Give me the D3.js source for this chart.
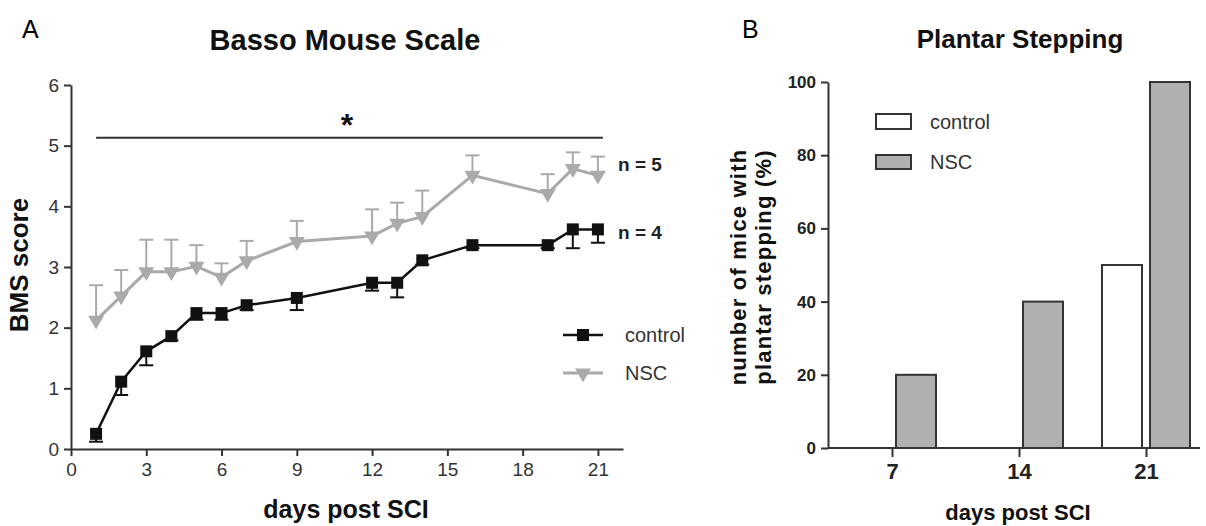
<html>
  <head>
    <title>BMS and plantar stepping</title>
    <script src="https://d3js.org/d3.v7.min.js"></script>
    <style>
      body { margin: 0; background: #fff; font-family: "Liberation Sans", Arial, sans-serif; }
      .axis path, .axis line { stroke: #333; stroke-width: 2; }
      .axisA text { font-size: 19px; fill: #333; }
      .axisB text { font-size: 17px; fill: #222; font-weight: bold; }
    </style>
  </head>
  <body>
    <svg width="1206" height="526"></svg>
    <script>
      // panel A: Basso Mouse Scale
      var days = [1, 2, 3, 4, 5, 6, 7, 9, 12, 13, 14, 16, 19, 20, 21];
      var controlMean = [0.25, 1.11, 1.61, 1.86, 2.24, 2.24, 2.37, 2.49, 2.74, 2.74, 3.11, 3.36, 3.36, 3.62, 3.62];
      var controlErr  = [0.13, 0.22, 0.23, 0.07, 0.11, 0.11, 0.08, 0.2, 0.13, 0.24, 0.07, 0.05, 0.05, 0.31, 0.22];
      var nscMean = [2.12, 2.52, 2.92, 2.92, 3.01, 2.83, 3.1, 3.42, 3.51, 3.72, 3.83, 4.51, 4.21, 4.62, 4.51];
      var nscErr  = [0.58, 0.43, 0.53, 0.53, 0.35, 0.23, 0.33, 0.34, 0.44, 0.34, 0.43, 0.33, 0.32, 0.27, 0.31];
      var xTicksA = [0, 3, 6, 9, 12, 15, 18, 21];
      var yTicksA = [0, 1, 2, 3, 4, 5, 6];

      // panel B: Plantar Stepping
      var stepDays = ["7", "14", "21"];
      var stepControl = [0, 0, 50];
      var stepNSC = [20, 40, 100];
      var yTicksB = [0, 20, 40, 60, 80, 100];

      var svg = d3.select("svg");
      var dark = "#111", grey = "#aaaaaa";

      // ---------- A ----------
      var xA = d3.scaleLinear().domain([0, 22]).range([71, 623]);
      var yA = d3.scaleLinear().domain([0, 6]).range([449, 85]);

      svg.append("g").attr("class", "axis axisA")
        .attr("transform", "translate(0,449)")
        .call(d3.axisBottom(xA).tickValues(xTicksA).tickSize(7).tickSizeOuter(0).tickPadding(7));
      svg.append("g").attr("class", "axis axisA")
        .attr("transform", "translate(71,0)")
        .call(d3.axisLeft(yA).tickValues(yTicksA).tickFormat(d3.format("d")).tickSize(7).tickSizeOuter(0).tickPadding(5));

      svg.append("text").attr("x", 22).attr("y", 38).attr("font-size", 25).text("A");
      svg.append("text").attr("x", 345).attr("y", 50).attr("text-anchor", "middle")
        .attr("font-size", 29).attr("font-weight", "bold").attr("fill", "#111").text("Basso Mouse Scale");
      svg.append("text").attr("transform", "translate(28,265) rotate(-90)").attr("text-anchor", "middle")
        .attr("font-size", 26).attr("font-weight", "bold").attr("fill", "#111").text("BMS score");
      svg.append("text").attr("x", 346).attr("y", 518).attr("text-anchor", "middle")
        .attr("font-size", 25).attr("font-weight", "bold").attr("fill", "#111").text("days post SCI");

      // significance bar
      svg.append("line").attr("x1", xA(1)).attr("x2", xA(21.2))
        .attr("y1", yA(5.13)).attr("y2", yA(5.13)).attr("stroke", "#333").attr("stroke-width", 2);
      svg.append("text").attr("x", 347).attr("y", 136).attr("text-anchor", "middle")
        .attr("font-size", 32).attr("font-weight", "bold").attr("fill", "#111").text("*");

      var line = d3.line().x(function(d){ return xA(d[0]); }).y(function(d){ return yA(d[1]); });

      // NSC error bars (upward)
      var nscG = svg.append("g");
      days.forEach(function(d, i){
        var top = yA(nscMean[i] + nscErr[i]);
        nscG.append("line").attr("x1", xA(d)).attr("x2", xA(d)).attr("y1", yA(nscMean[i])).attr("y2", top)
          .attr("stroke", grey).attr("stroke-width", 2);
        nscG.append("line").attr("x1", xA(d) - 7).attr("x2", xA(d) + 7).attr("y1", top).attr("y2", top)
          .attr("stroke", grey).attr("stroke-width", 2);
      });
      nscG.append("path").datum(days.map(function(d, i){ return [d, nscMean[i]]; }))
        .attr("d", line).attr("fill", "none").attr("stroke", grey).attr("stroke-width", 3);
      var tri = d3.symbol().type(d3.symbolTriangle).size(110);
      days.forEach(function(d, i){
        nscG.append("path").attr("d", tri)
          .attr("transform", "translate(" + xA(d) + "," + yA(nscMean[i]) + ") rotate(180)")
          .attr("fill", grey);
      });

      // control error bars (downward)
      var ctlG = svg.append("g");
      days.forEach(function(d, i){
        var bot = yA(controlMean[i] - controlErr[i]);
        ctlG.append("line").attr("x1", xA(d)).attr("x2", xA(d)).attr("y1", yA(controlMean[i])).attr("y2", bot)
          .attr("stroke", dark).attr("stroke-width", 2);
        ctlG.append("line").attr("x1", xA(d) - 7).attr("x2", xA(d) + 7).attr("y1", bot).attr("y2", bot)
          .attr("stroke", dark).attr("stroke-width", 2);
      });
      ctlG.append("path").datum(days.map(function(d, i){ return [d, controlMean[i]]; }))
        .attr("d", line).attr("fill", "none").attr("stroke", dark).attr("stroke-width", 2.5);
      days.forEach(function(d, i){
        ctlG.append("rect").attr("x", xA(d) - 6).attr("y", yA(controlMean[i]) - 6)
          .attr("width", 12).attr("height", 12).attr("fill", dark);
      });

      svg.append("text").attr("x", 618).attr("y", 171).attr("font-size", 19).attr("font-weight", "bold")
        .attr("fill", "#222").text("n = 5");
      svg.append("text").attr("x", 618).attr("y", 239).attr("font-size", 19).attr("font-weight", "bold")
        .attr("fill", "#222").text("n = 4");

      // legend A
      var legA = svg.append("g");
      legA.append("line").attr("x1", 563).attr("x2", 603).attr("y1", 335).attr("y2", 335)
        .attr("stroke", dark).attr("stroke-width", 2.5);
      legA.append("rect").attr("x", 577).attr("y", 329).attr("width", 12).attr("height", 12).attr("fill", dark);
      legA.append("text").attr("x", 625).attr("y", 342).attr("font-size", 20).attr("fill", "#333").text("control");
      legA.append("line").attr("x1", 563).attr("x2", 603).attr("y1", 373).attr("y2", 373)
        .attr("stroke", grey).attr("stroke-width", 3);
      legA.append("path").attr("d", tri).attr("transform", "translate(583,373) rotate(180)").attr("fill", grey);
      legA.append("text").attr("x", 625).attr("y", 380).attr("font-size", 20).attr("fill", "#333").text("NSC");

      // ---------- B ----------
      var xB = d3.scalePoint().domain(stepDays).range([892, 1146]);
      var yB = d3.scaleLinear().domain([0, 100]).range([448, 82]);

      svg.append("g").attr("class", "axis axisB")
        .attr("transform", "translate(0,448)")
        .call(d3.axisBottom(xB).tickSize(9).tickSizeOuter(0).tickPadding(6))
        .call(function(g){
          g.select(".domain").attr("d", "M828,0H1200");
          g.selectAll("text").style("font-size", "22px");
        });
      svg.append("g").attr("class", "axis axisB")
        .attr("transform", "translate(828,0)")
        .call(d3.axisLeft(yB).tickValues(yTicksB).tickSize(7).tickSizeOuter(0).tickPadding(5));

      var barW = 40, gap = 4;
      var barsB = svg.append("g");
      stepDays.forEach(function(d, i){
        if (stepControl[i] > 0) {
          barsB.append("rect").attr("x", xB(d) - gap - barW).attr("y", yB(stepControl[i]))
            .attr("width", barW).attr("height", yB(0) - yB(stepControl[i]))
            .attr("fill", "#fff").attr("stroke", "#333").attr("stroke-width", 2);
        }
        barsB.append("rect").attr("x", xB(d) + gap).attr("y", yB(stepNSC[i]))
          .attr("width", barW).attr("height", yB(0) - yB(stepNSC[i]))
          .attr("fill", "#b0b0b0").attr("stroke", "#333").attr("stroke-width", 2);
      });

      svg.append("text").attr("x", 742).attr("y", 38).attr("font-size", 25).text("B");
      svg.append("text").attr("x", 1020).attr("y", 48).attr("text-anchor", "middle")
        .attr("font-size", 26).attr("font-weight", "bold").attr("fill", "#111").text("Plantar Stepping");
      svg.append("text").attr("transform", "translate(746,267) rotate(-90)").attr("text-anchor", "middle")
        .attr("font-size", 22).attr("font-weight", "bold").attr("fill", "#111").attr("letter-spacing", 1.2)
        .text("number of mice with");
      svg.append("text").attr("transform", "translate(771,267) rotate(-90)").attr("text-anchor", "middle")
        .attr("font-size", 22).attr("font-weight", "bold").attr("fill", "#111").attr("letter-spacing", 1.2)
        .text("plantar stepping (%)");
      svg.append("text").attr("x", 1018).attr("y", 520).attr("text-anchor", "middle")
        .attr("font-size", 22).attr("font-weight", "bold").attr("fill", "#111").text("days post SCI");

      // legend B
      svg.append("rect").attr("x", 876).attr("y", 114).attr("width", 35).attr("height", 15)
        .attr("fill", "#fff").attr("stroke", "#333").attr("stroke-width", 2);
      svg.append("text").attr("x", 930).attr("y", 129).attr("font-size", 20).attr("fill", "#333").text("control");
      svg.append("rect").attr("x", 876).attr("y", 155).attr("width", 35).attr("height", 14)
        .attr("fill", "#b0b0b0").attr("stroke", "#333").attr("stroke-width", 2);
      svg.append("text").attr("x", 930).attr("y", 169).attr("font-size", 20).attr("fill", "#333").text("NSC");
    </script>
  </body>
</html>
